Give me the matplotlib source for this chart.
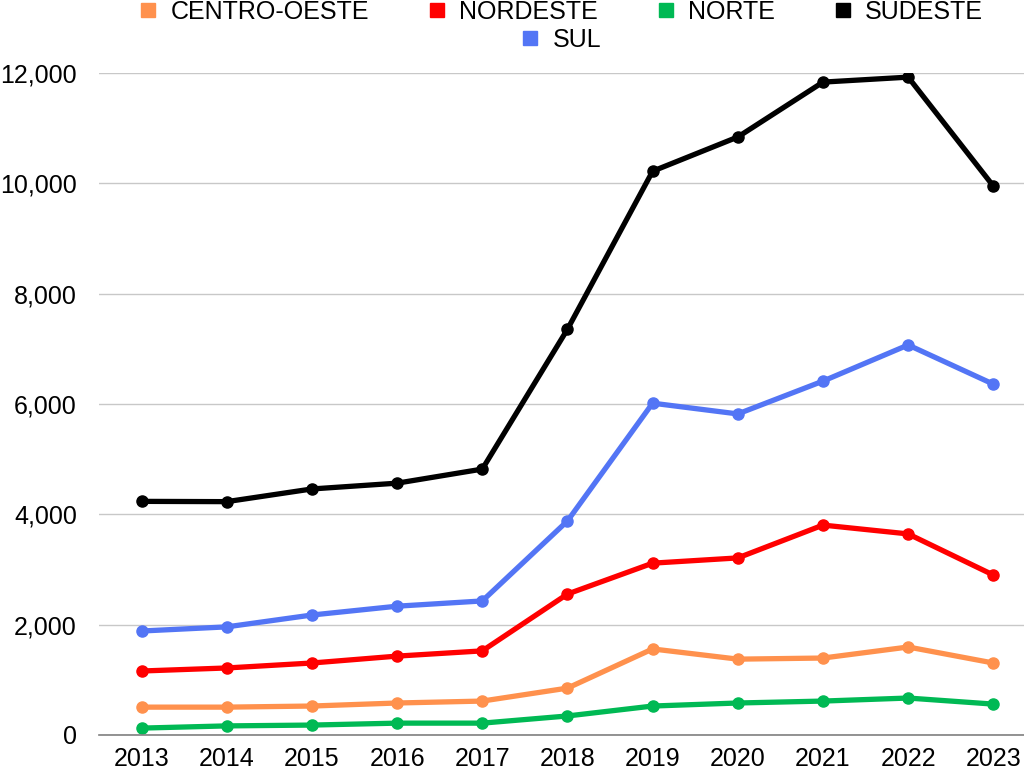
import matplotlib
matplotlib.use('Agg')
import matplotlib.pyplot as plt
from matplotlib.lines import Line2D

plt.rcParams['font.family'] = ['Liberation Sans', 'DejaVu Sans']

anos = [2013, 2014, 2015, 2016, 2017, 2018, 2019, 2020, 2021, 2022, 2023]

centro_oeste = [505, 505, 525, 580, 615, 850, 1560, 1375, 1395, 1595, 1305]
nordeste = [1160, 1215, 1305, 1430, 1525, 2555, 3115, 3210, 3805, 3645, 2900]
norte = [125, 165, 180, 215, 215, 345, 525, 580, 615, 670, 560]
sudeste = [4235, 4230, 4460, 4565, 4820, 7355, 10220, 10840, 11835, 11925, 9950]
sul = [1885, 1960, 2175, 2335, 2430, 3880, 6015, 5820, 6415, 7070, 6360]

series = [
    ('CENTRO-OESTE', centro_oeste, '#ff914d'),
    ('NORDESTE', nordeste, '#ff0000'),
    ('NORTE', norte, '#00b954'),
    ('SUDESTE', sudeste, '#000000'),
    ('SUL', sul, '#5375f5'),
]

fig = plt.figure(figsize=(10.24, 7.68), dpi=100)
ax = fig.add_axes([99 / 1024, 1 - 735 / 768, 925 / 1024, (735 - 73) / 768])

for nome, valores, cor in series:
    ax.plot(anos, valores, color=cor, linewidth=3.8, marker='o', markersize=8,
            solid_joinstyle='round', solid_capstyle='round', zorder=3)

ax.set_xlim(2012.5, 2023.36)
ax.set_ylim(0, 12000)
ax.set_xticks(anos)
ax.set_yticks(range(0, 12001, 2000))
ax.set_yticklabels([f'{v:,}' for v in range(0, 12001, 2000)])
ax.tick_params(axis='both', length=0, labelsize=18)
ax.tick_params(axis='y', pad=16)
ax.tick_params(axis='x', pad=9)
ax.grid(axis='y', color='#c8c8c8', linewidth=1)
ax.set_axisbelow(True)
for s in ['top', 'right', 'left']:
    ax.spines[s].set_visible(False)
ax.spines['bottom'].set_color('#808080')
ax.spines['bottom'].set_linewidth(1.2)
ax.spines['bottom'].set_zorder(4)

handles = [Line2D([], [], linestyle='none', marker='s', markersize=10,
                  color=cor, label=nome) for nome, valores, cor in series]

leg1 = fig.legend(handles=handles[:4], loc='center', ncol=4,
                  bbox_to_anchor=(562 / 1024, 1 - 12 / 768), frameon=False,
                  fontsize=18, handlelength=0.6, handletextpad=0.6,
                  columnspacing=2.4, borderpad=0)
leg2 = fig.legend(handles=handles[4:], loc='center', ncol=1,
                  bbox_to_anchor=(562 / 1024, 1 - 40 / 768), frameon=False,
                  fontsize=18, handlelength=0.6, handletextpad=0.6, borderpad=0)

fig.savefig('out.png', dpi=100)
